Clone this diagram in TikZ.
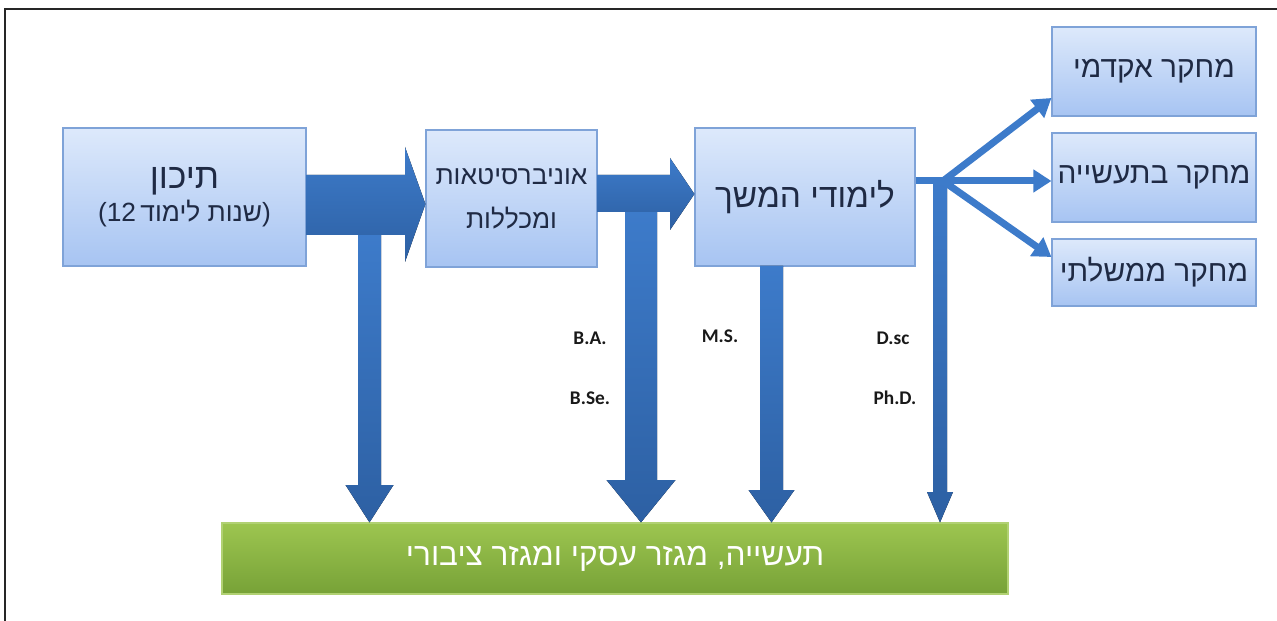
\documentclass[tikz,border=0pt]{standalone}
\usepackage{fontspec}
\usepackage{xcolor}
\usetikzlibrary{arrows.meta}
\setmainfont{Liberation Sans}
\newfontfamily\hebfont[Script=Hebrew]{Liberation Sans}
\newfontfamily\degfont{Carlito}
\TeXXeTstate=1

\definecolor{boxtop}{HTML}{DDE9FB}
\definecolor{boxbot}{HTML}{A7C4F2}
\definecolor{boxline}{HTML}{7FA3D8}
\definecolor{arrtop}{HTML}{3D7BCA}
\definecolor{arrbot}{HTML}{2D60A3}
\definecolor{grtop}{HTML}{9DC550}
\definecolor{grbot}{HTML}{77A237}
\definecolor{boxtext}{HTML}{1F2A44}

% block arrow pointing down onto the sector box
\newcommand{\downblock}[5]{%
  \fill[blockarrow] (#1-#3,#2) -- (#1+#3,#2) -- (#1+#3,#5) -- (#1+#4,#5)
    -- (#1,0 |- sector.north) -- (#1-#4,#5) -- (#1-#3,#5) -- cycle;}

\begin{document}
\begin{tikzpicture}[x=0.02cm, y=-0.02cm,
    stagebox/.style={draw=boxline, line width=0.7pt, top color=boxtop, bottom color=boxbot,
      text=boxtext, align=center, inner sep=0pt, font=\hebfont},
    sectorbox/.style={draw=grtop!80!white, line width=0.7pt, top color=grtop, bottom color=grbot,
      text=white, inner sep=0pt, font=\hebfont\fontsize{18}{22}\selectfont},
    blockarrow/.style={top color=arrtop, bottom color=arrbot, draw=none},
    thinarrow/.style={draw=arrtop, line width=0.14cm, -{Triangle[length=0.36cm,width=0.44cm]}},
    degree/.style={font=\degfont\bfseries\fontsize{11}{13}\selectfont, text=black!90}]

    \useasboundingbox (0,0) rectangle (1277,621);

    % frame
    \draw[line width=0.05cm, black!85] (5,621) -- (5,9) -- (1277,9);

    % stages
    \node[stagebox, minimum width=4.86cm, minimum height=2.76cm] (tikhon) at (184.5,197)
      {{\fontsize{20}{26}\selectfont\beginR תיכון\endR}\\[2pt]
       {\fontsize{15}{20}\selectfont{\normalfont (12}\,\beginR שנות לימוד\endR{\normalfont )}}};
    \node[stagebox, minimum width=3.42cm, minimum height=2.74cm,
      font=\hebfont\fontsize{15}{25}\selectfont] (univ) at (511.5,198.5)
      {\beginR אוניברסיטאות\endR\\\beginR ומכללות\endR};
    \node[stagebox, minimum width=4.40cm, minimum height=2.76cm] (hemshech) at (805,197)
      {\fontsize{19}{24}\selectfont\beginR לימודי המשך\endR};

    % research
    \node[stagebox, minimum width=4.08cm, minimum height=1.78cm] (akad) at (1154,71.5)
      {\fontsize{17}{20}\selectfont\beginR מחקר אקדמי\endR};
    \node[stagebox, minimum width=4.08cm, minimum height=1.78cm] (taasiya) at (1154,177.5)
      {\fontsize{17}{20}\selectfont\beginR מחקר בתעשייה\endR};
    \node[stagebox, minimum width=4.08cm, minimum height=1.34cm] (memshal) at (1154,272.5)
      {\fontsize{17}{20}\selectfont\beginR מחקר ממשלתי\endR};

    % sectors
    \node[sectorbox, minimum width=15.72cm, minimum height=1.42cm] (sector) at (615,558.5)
      {\beginR תעשייה, מגזר עסקי ומגזר ציבורי\endR};

    % arrows down
    \downblock{369.5}{235}{11.5}{24}{485}
    \downblock{641}{212}{16}{34.5}{480}
    \downblock{771.5}{266}{11.5}{23}{490}
    \downblock{940}{178}{7}{13}{492}

    % arrows right
    \fill[blockarrow] (tikhon.east |- 0,175) -- (405,175) -- (405,147) -- (univ.west |- 0,204)
      -- (405,262) -- (405,235) -- (tikhon.east |- 0,235) -- cycle;
    \fill[blockarrow] (univ.east |- 0,175) -- (670,175) -- (670,158) -- (hemshech.west |- 0,194)
      -- (670,230) -- (670,212) -- (univ.east |- 0,212) -- cycle;

    % split to research
    \coordinate (split) at (943,181);
    \draw[draw=arrtop, line width=0.14cm] (hemshech.east |- split) -- (split);
    \draw[thinarrow] (split) -- (akad.west |- 0,98);
    \draw[thinarrow] (split) -- (taasiya.west |- split);
    \draw[thinarrow] (split) -- (memshal.west |- 0,257);

    % degrees
    \node[degree] (ba) at (590,338) {B.A.};
    \node[degree] (bse) at (590,398) {B.Se.};
    \node[degree] (ms) at (720,336) {M.S.};
    \node[degree] (dsc) at (893,338) {D.sc};
    \node[degree] (phd) at (895,398) {Ph.D.};

\end{tikzpicture}
\end{document}
